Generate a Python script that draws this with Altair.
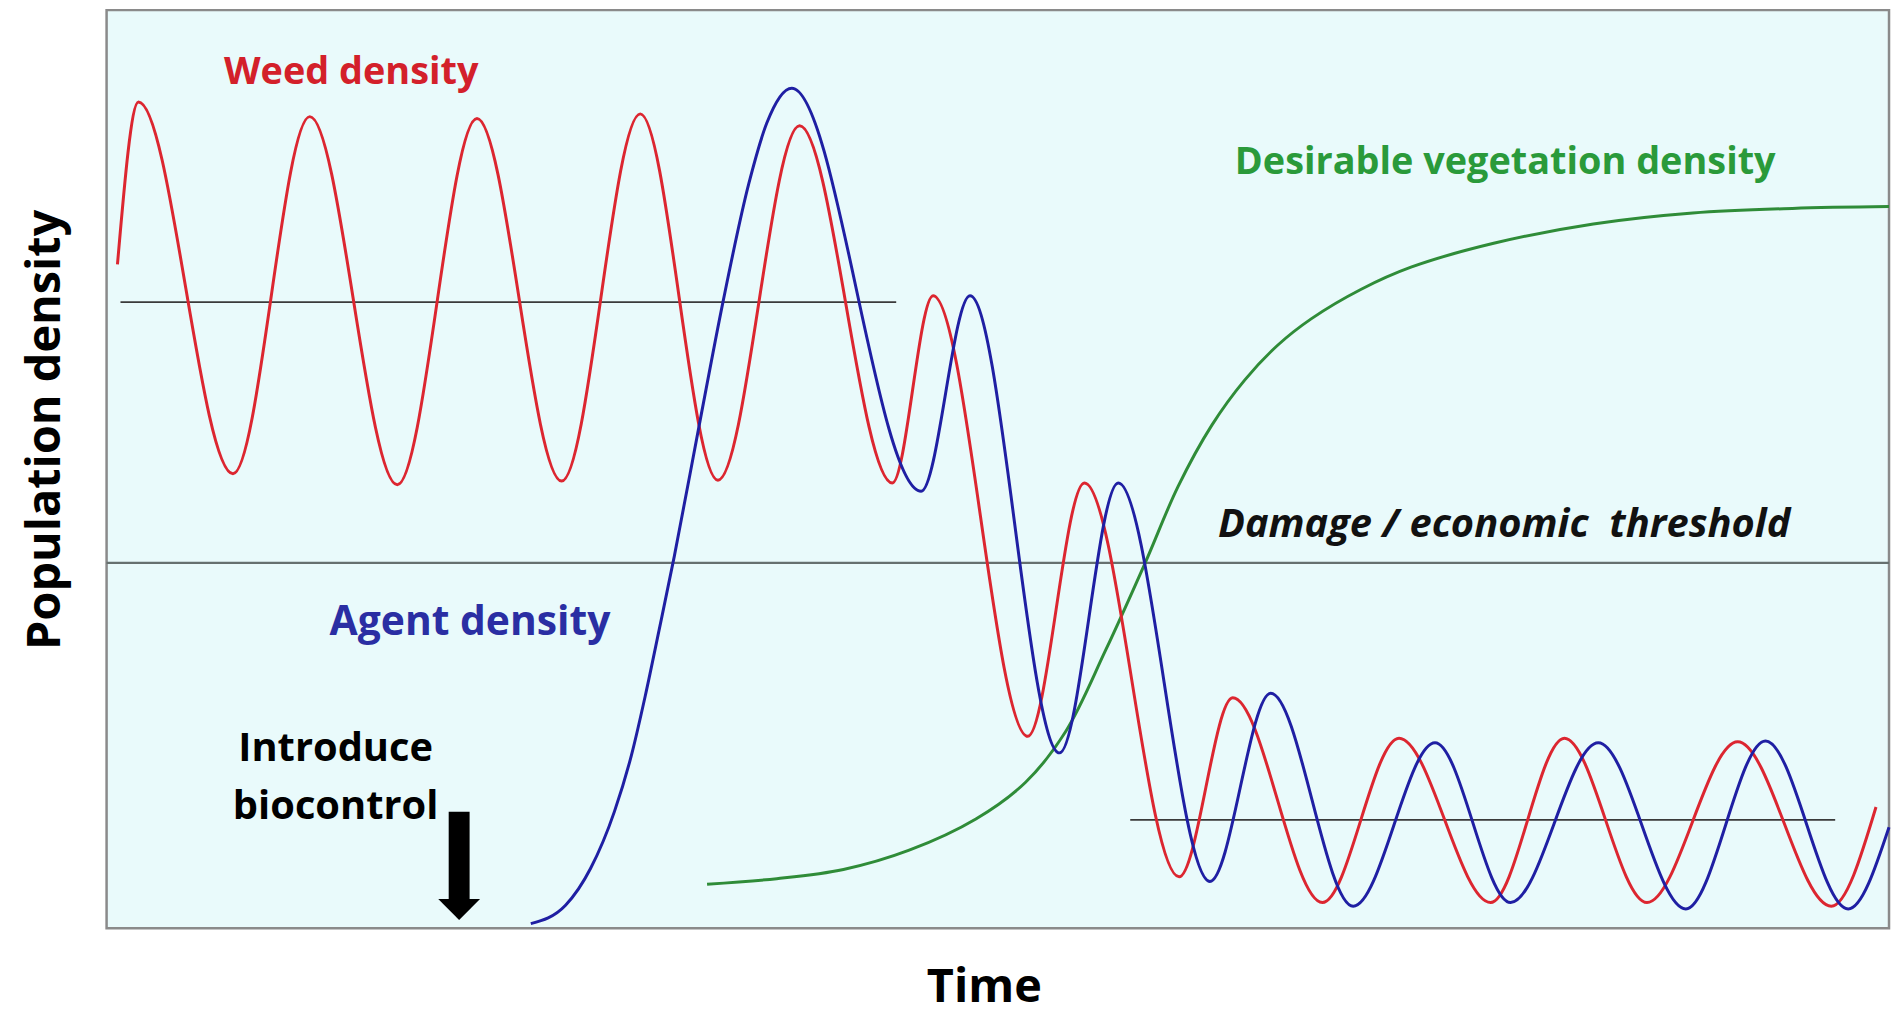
import altair as alt
import pandas as pd

# ---- data (time 0-100, density 0-100) ----
weed_t = [0.61, 1.79, 7.09, 11.40, 16.31, 20.78, 25.53, 29.94, 34.30, 38.88, 44.08, 46.37,
          51.68, 54.86, 60.17, 63.18, 68.21, 72.51, 77.65, 81.79, 86.42, 91.51, 96.76, 99.27]
weed_d = [72.3, 90.0, 49.5, 88.4, 48.3, 88.2, 48.7, 88.7, 48.8, 87.4, 48.5, 68.9,
          20.9, 48.5, 5.6, 25.1, 2.8, 20.7, 2.8, 20.7, 2.8, 20.3, 2.4, 13.2]

agent_t = [23.80, 25.75, 27.15, 28.49, 29.44, 30.22, 31.00, 31.85, 33.25, 34.58, 36.03, 37.04,
           38.44, 45.70, 48.44, 53.46, 56.76, 61.90, 65.31, 69.94, 74.53, 78.77, 83.69,
           88.60, 93.07, 97.71, 100.0]
agent_d = [0.5, 2.5, 6.5, 12.7, 18.8, 25.3, 32.5, 40.5, 54.8, 68.2, 81.1, 87.7,
           91.5, 47.6, 68.9, 19.1, 48.5, 5.1, 25.6, 2.4, 20.2, 2.8, 20.2,
           2.1, 20.4, 2.1, 11.0]

veg_t = [33.69, 37.60, 41.34, 45.03, 48.77, 51.56, 53.80, 56.03, 58.27, 60.11, 62.01,
         63.85, 65.70, 67.60, 70.39, 73.18, 77.82, 83.41, 88.99, 94.58, 100.0]
veg_d = [4.8, 5.4, 6.4, 8.5, 11.9, 15.9, 21.4, 30.2, 39.8, 48.1, 54.8,
         59.7, 63.5, 66.4, 69.6, 72.0, 74.6, 76.7, 77.9, 78.4, 78.6]

# horizontal reference lines: start, end, level
ref_start = [0.78, 0.0, 57.43]
ref_end = [44.30, 100.0, 96.98]
ref_level = [68.2, 39.8, 11.8]
ref_width = [1.6, 2.4, 1.6]
ref_color = ["#3a3a3a", "#66706f", "#3a3a3a"]

# "Introduce biocontrol" arrow
arrow_t = [19.78]
arrow_top = [12.7]
arrow_base = [2.9]
arrow_tip = [0.9]

# labels
labels = [
    # text, t, d, color, italic, size, align
    ("Weed density", 6.59, 92.0, "#d3202a", False, 38, "left"),
    ("Desirable vegetation density", 63.3, 82.1, "#2a9a3a", False, 38, "left"),
    ("Agent density", 12.51, 31.9, "#2a2ea3", False, 41, "left"),
    ("Damage / economic\u00a0 threshold", 62.35, 42.6, "#111111", True, 40, "left"),
    ("Introduce", 12.85, 18.2, "#000000", False, 40, "center"),
    ("biocontrol", 12.85, 11.9, "#000000", False, 40, "center"),
]

FONT = "Open Sans"

xs = alt.Scale(domain=[0, 100], nice=False, zero=False)
ys = alt.Scale(domain=[0, 100], nice=False, zero=False)
xaxis = alt.Axis(title="Time", labels=False, ticks=False, domain=False, grid=False,
                 titleFont=FONT, titleFontSize=47, titleFontWeight="bold", titleColor="#000000",
                 titleX=881, titleY=74, titleBaseline="alphabetic", titleAlign="center")
yaxis = alt.Axis(title="Population density", labels=False, ticks=False, domain=False, grid=False,
                 titleFont=FONT, titleFontSize=47, titleFontWeight="bold", titleColor="#000000",
                 titleX=-47, titleY=421, titleBaseline="alphabetic", titleAlign="center",
                 titleAngle=270)


def X(f):
    return alt.X(f, type="quantitative", scale=xs, axis=xaxis)


def Y(f):
    return alt.Y(f, type="quantitative", scale=ys, axis=yaxis)


def curve(t, d, color, interp="monotone"):
    df = pd.DataFrame({"t": t, "d": d, "i": range(len(t))})
    return alt.Chart(df).mark_line(interpolate=interp, strokeWidth=3, color=color).encode(
        x=X("t"), y=Y("d"), order="i:O")


refs = pd.DataFrame({"t0": ref_start, "t1": ref_end, "d": ref_level, "w": ref_width, "c": ref_color})
ref_layer = alt.Chart(refs).mark_rule().encode(
    x=X("t0"), x2="t1", y=Y("d"),
    strokeWidth=alt.StrokeWidth("w:Q", scale=None),
    color=alt.Color("c:N", scale=None))

arrow_df = pd.DataFrame({"t": arrow_t, "top": arrow_top, "base": arrow_base, "tip": arrow_tip})
shaft = alt.Chart(arrow_df).mark_rule(strokeWidth=21, color="#000000", strokeCap="butt").encode(
    x=X("t"), y=Y("top"), y2="base")
head = alt.Chart(arrow_df).mark_point(shape="M-1,-1L1,-1L0,0Z", filled=True, size=1764,
                                      color="#000000", opacity=1, strokeWidth=0).encode(
    x=X("t"), y=Y("tip"))

text_layers = []
for txt, t, d, col, ital, size, al in labels:
    df = pd.DataFrame({"t": [t], "d": [d], "label": [txt]})
    kw = dict(font=FONT, fontWeight="bold", fontSize=size, align=al, baseline="alphabetic", color=col)
    if ital:
        kw["fontStyle"] = "italic"
    text_layers.append(alt.Chart(df).mark_text(**kw).encode(x=X("t"), y=Y("d"), text="label:N"))

chart = alt.layer(
    ref_layer,
    curve(veg_t, veg_d, "#2f8c38", "catmull-rom"),
    curve(weed_t, weed_d, "#dc2630"),
    curve(agent_t, agent_d, "#1f1fa3"),
    shaft, head,
    *text_layers,
).properties(
    width=1790, height=922,
    autosize=alt.AutoSizeParams(type="none"),
    padding={"left": 99, "top": 0, "right": 4, "bottom": 85},
    background="#ffffff",
).configure_view(fill="#e9fafb", stroke="#8a8a8a", strokeWidth=2.5)

chart.save("out.html", embed_options={"renderer": "svg", "actions": False})
